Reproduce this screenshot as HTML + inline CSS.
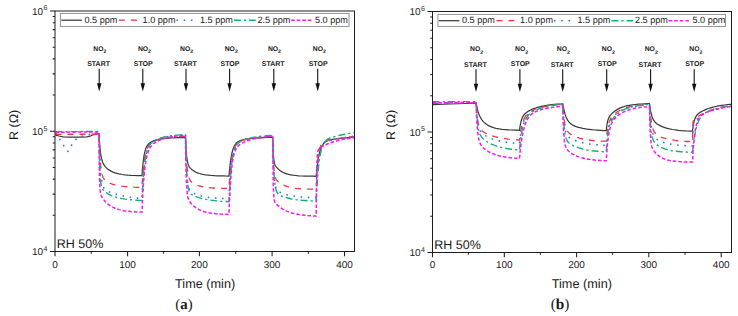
<!DOCTYPE html>
<html><head><meta charset="utf-8"><style>
html,body{margin:0;padding:0;background:#fff;}
body{width:738px;height:316px;overflow:hidden;}
svg{display:block;}
text{font-family:"Liberation Sans", sans-serif;fill:#1a1a1a;text-rendering:geometricPrecision;}
</style></head><body>
<svg width="738" height="316" viewBox="0 0 738 316">
<clipPath id="clipa"><rect x="55.0" y="11.0" width="299.5" height="240.5"/></clipPath>
<g clip-path="url(#clipa)" fill="none" stroke-linejoin="round">
<path d="M55.5 135.2 L59.0 136.0 L63.0 136.8 L70.0 137.1 L80.0 137.1 L87.0 136.8 L90.0 136.2 L93.0 134.8 L96.5 133.6 L99.0 133.9 L99.1 135.8 L99.2 137.6 L99.3 140.1 L99.5 142.3 L99.8 145.6 L100.0 148.3 L100.3 151.1 L100.6 153.5 L101.0 156.0 L101.5 158.4 L102.0 160.3 L102.5 161.8 L103.0 163.0 L104.0 164.9 L105.0 166.3 L106.0 167.4 L107.0 168.4 L108.0 169.2 L109.0 169.9 L111.0 171.1 L113.0 172.1 L115.0 172.8 L117.0 173.4 L119.0 173.9 L122.0 174.5 L125.0 174.9 L128.0 175.2 L131.0 175.4 L134.0 175.5 L137.0 175.6 L140.0 175.7 L142.0 175.7 L142.1 174.2 L142.2 172.8 L142.3 170.7 L142.5 168.9 L142.8 166.0 L143.0 163.5 L143.3 160.8 L143.6 158.5 L144.0 155.9 L144.5 153.3 L145.0 151.1 L145.5 149.4 L146.0 148.0 L147.0 145.9 L148.0 144.5 L149.0 143.5 L150.0 142.7 L151.0 142.0 L152.0 141.5 L154.0 140.7 L156.0 140.1 L158.0 139.6 L160.0 139.2 L162.0 138.9 L165.0 138.5 L168.0 138.2 L171.0 138.0 L174.0 137.9 L177.0 137.7 L180.0 137.6 L183.0 137.6 L185.5 137.5 L185.6 140.1 L185.7 142.4 L185.8 145.5 L186.0 148.2 L186.2 151.9 L186.5 154.9 L186.8 157.7 L187.1 159.8 L187.5 162.0 L188.0 163.9 L188.5 165.3 L189.0 166.3 L189.5 167.1 L190.5 168.4 L191.5 169.3 L192.5 170.1 L193.5 170.8 L194.5 171.4 L195.5 172.0 L197.5 172.8 L199.5 173.5 L201.5 174.1 L203.5 174.5 L205.5 174.9 L208.5 175.2 L211.5 175.5 L214.5 175.7 L217.5 175.8 L220.5 175.9 L223.5 175.9 L226.5 176.0 L229.0 176.0 L229.1 174.8 L229.2 173.6 L229.3 171.9 L229.5 170.3 L229.8 167.8 L230.0 165.5 L230.3 163.0 L230.6 160.7 L231.0 158.1 L231.5 155.3 L232.0 152.9 L232.5 151.0 L233.0 149.3 L234.0 146.7 L235.0 144.9 L236.0 143.5 L237.0 142.5 L238.0 141.8 L239.0 141.2 L241.0 140.4 L243.0 139.8 L245.0 139.4 L247.0 139.1 L249.0 138.8 L252.0 138.5 L255.0 138.2 L258.0 137.9 L261.0 137.8 L264.0 137.6 L267.0 137.5 L270.0 137.4 L272.7 137.3 L272.8 141.1 L272.9 144.3 L273.1 148.4 L273.2 151.6 L273.4 155.6 L273.7 158.5 L274.0 160.8 L274.3 162.4 L274.7 163.9 L275.2 165.2 L275.7 166.1 L276.2 166.8 L276.7 167.4 L277.7 168.5 L278.7 169.4 L279.7 170.3 L280.7 171.0 L281.7 171.6 L282.7 172.2 L284.7 173.1 L286.7 173.8 L288.7 174.4 L290.7 174.8 L292.7 175.2 L295.7 175.5 L298.7 175.8 L301.7 176.0 L304.7 176.1 L307.7 176.1 L310.7 176.2 L313.7 176.2 L316.2 176.3 L316.3 175.1 L316.4 174.0 L316.6 172.5 L316.7 171.0 L316.9 168.6 L317.2 166.4 L317.5 164.1 L317.8 161.9 L318.2 159.3 L318.7 156.5 L319.2 154.1 L319.7 152.1 L320.2 150.3 L321.2 147.5 L322.2 145.5 L323.2 144.0 L324.2 142.8 L325.2 142.0 L326.2 141.3 L328.2 140.4 L330.2 139.8 L332.2 139.4 L334.2 139.1 L336.2 138.8 L339.2 138.5 L342.2 138.1 L345.2 137.8 L348.2 137.5 L351.2 137.2 L354.2 137.0 L354.5 136.9" stroke="#3a3a3a" stroke-width="1.25"/>
<path d="M55.5 134.3 L99.0 134.2 L99.1 137.3 L99.2 140.2 L99.3 144.2 L99.5 147.7 L99.8 152.9 L100.0 157.2 L100.3 161.4 L100.6 164.8 L101.0 168.4 L101.5 171.8 L102.0 174.2 L102.5 175.9 L103.0 177.2 L104.0 179.0 L105.0 180.2 L106.0 181.1 L107.0 181.7 L108.0 182.3 L109.0 182.8 L111.0 183.6 L113.0 184.3 L115.0 184.9 L117.0 185.3 L119.0 185.7 L122.0 186.2 L125.0 186.6 L128.0 186.8 L131.0 187.0 L134.0 187.2 L137.0 187.3 L140.0 187.4 L142.0 187.4 L142.1 185.6 L142.2 183.9 L142.3 181.4 L142.5 179.1 L142.8 175.5 L143.0 172.4 L143.3 169.0 L143.6 166.0 L144.0 162.5 L144.5 159.0 L145.0 156.1 L145.5 153.7 L146.0 151.7 L147.0 148.8 L148.0 146.7 L149.0 145.1 L150.0 144.0 L151.0 143.1 L152.0 142.3 L154.0 141.2 L156.0 140.3 L158.0 139.6 L160.0 139.1 L162.0 138.6 L165.0 138.0 L168.0 137.6 L171.0 137.2 L174.0 136.9 L177.0 136.7 L180.0 136.5 L183.0 136.4 L185.5 136.3 L185.6 139.4 L185.7 142.2 L185.8 146.2 L186.0 149.7 L186.2 154.8 L186.5 159.0 L186.8 163.3 L187.1 166.7 L187.5 170.3 L188.0 173.6 L188.5 176.0 L189.0 177.8 L189.5 179.1 L190.5 180.9 L191.5 182.1 L192.5 182.9 L193.5 183.6 L194.5 184.1 L195.5 184.6 L197.5 185.4 L199.5 186.0 L201.5 186.5 L203.5 186.9 L205.5 187.2 L208.5 187.6 L211.5 187.8 L214.5 188.0 L217.5 188.2 L220.5 188.3 L223.5 188.4 L226.5 188.4 L229.0 188.5 L229.1 186.7 L229.2 185.0 L229.3 182.6 L229.5 180.3 L229.8 176.8 L230.0 173.6 L230.3 170.2 L230.6 167.1 L231.0 163.6 L231.5 159.8 L232.0 156.7 L232.5 154.2 L233.0 152.0 L234.0 148.8 L235.0 146.4 L236.0 144.8 L237.0 143.6 L238.0 142.7 L239.0 141.9 L241.0 140.9 L243.0 140.2 L245.0 139.6 L247.0 139.1 L249.0 138.7 L252.0 138.2 L255.0 137.8 L258.0 137.4 L261.0 137.1 L264.0 136.8 L267.0 136.6 L270.0 136.4 L272.7 136.3 L272.8 141.3 L272.9 145.7 L273.1 151.4 L273.2 156.0 L273.4 162.0 L273.7 166.4 L274.0 170.2 L274.3 172.9 L274.7 175.3 L275.2 177.2 L275.7 178.5 L276.2 179.4 L276.7 180.1 L277.7 181.2 L278.7 182.1 L279.7 182.9 L280.7 183.6 L281.7 184.2 L282.7 184.8 L284.7 185.7 L286.7 186.4 L288.7 187.0 L290.7 187.5 L292.7 187.9 L295.7 188.3 L298.7 188.6 L301.7 188.8 L304.7 189.0 L307.7 189.1 L310.7 189.1 L313.7 189.2 L316.2 189.2 L316.3 186.7 L316.4 184.3 L316.6 180.9 L316.7 177.8 L316.9 173.2 L317.2 169.2 L317.5 165.0 L317.8 161.5 L318.2 157.6 L318.7 153.8 L319.2 150.9 L319.7 148.7 L320.2 147.0 L321.2 144.7 L322.2 143.2 L323.2 142.3 L324.2 141.7 L325.2 141.3 L326.2 140.9 L328.2 140.4 L330.2 140.0 L332.2 139.6 L334.2 139.2 L336.2 138.9 L339.2 138.4 L342.2 137.9 L345.2 137.4 L348.2 137.0 L351.2 136.6 L354.2 136.3 L354.5 136.2" stroke="#f8323f" stroke-width="1.3" stroke-dasharray="6 6"/>
<path d="M55.5 133.0 L57.5 135.0 L60.0 139.7 L64.0 146.2 L67.9 151.4 L71.5 145.3 L75.4 139.7 L81.7 136.4 L89.3 134.4 L95.9 133.4 L99.0 133.2 L99.1 137.0 L99.2 140.5 L99.3 145.3 L99.5 149.7 L99.8 156.0 L100.0 161.3 L100.3 166.5 L100.6 170.8 L101.0 175.3 L101.5 179.4 L102.0 182.4 L102.5 184.6 L103.0 186.1 L104.0 188.2 L105.0 189.4 L106.0 190.2 L107.0 190.8 L108.0 191.3 L109.0 191.8 L111.0 192.5 L113.0 193.2 L115.0 193.8 L117.0 194.4 L119.0 194.9 L122.0 195.6 L125.0 196.3 L128.0 196.8 L131.0 197.3 L134.0 197.8 L137.0 198.1 L140.0 198.5 L142.0 198.7 L142.1 196.4 L142.2 194.3 L142.3 191.2 L142.5 188.3 L142.8 183.9 L143.0 180.0 L143.3 175.8 L143.6 172.1 L144.0 167.8 L144.5 163.4 L145.0 159.8 L145.5 156.9 L146.0 154.4 L147.0 150.7 L148.0 148.1 L149.0 146.2 L150.0 144.8 L151.0 143.7 L152.0 142.8 L154.0 141.4 L156.0 140.3 L158.0 139.5 L160.0 138.7 L162.0 138.1 L165.0 137.4 L168.0 136.9 L171.0 136.4 L174.0 136.1 L177.0 135.8 L180.0 135.6 L183.0 135.4 L185.5 135.3 L185.6 140.0 L185.7 144.3 L185.8 150.1 L186.0 155.1 L186.2 162.1 L186.5 167.7 L186.8 173.0 L187.1 177.0 L187.5 181.0 L188.0 184.5 L188.5 186.7 L189.0 188.3 L189.5 189.4 L190.5 190.9 L191.5 191.8 L192.5 192.5 L193.5 193.1 L194.5 193.6 L195.5 194.1 L197.5 194.9 L199.5 195.5 L201.5 196.1 L203.5 196.5 L205.5 196.9 L208.5 197.4 L211.5 197.7 L214.5 198.0 L217.5 198.2 L220.5 198.4 L223.5 198.5 L226.5 198.6 L229.0 198.7 L229.1 196.5 L229.2 194.5 L229.3 191.6 L229.5 188.8 L229.8 184.5 L230.0 180.7 L230.3 176.5 L230.6 172.8 L231.0 168.5 L231.5 164.0 L232.0 160.2 L232.5 157.1 L233.0 154.5 L234.0 150.6 L235.0 147.8 L236.0 145.8 L237.0 144.3 L238.0 143.2 L239.0 142.3 L241.0 141.1 L243.0 140.2 L245.0 139.5 L247.0 138.9 L249.0 138.4 L252.0 137.8 L255.0 137.3 L258.0 136.8 L261.0 136.5 L264.0 136.2 L267.0 135.9 L270.0 135.7 L272.7 135.5 L272.8 140.7 L272.9 145.3 L273.1 151.5 L273.2 156.9 L273.4 164.2 L273.7 169.8 L274.0 175.0 L274.3 178.9 L274.7 182.6 L275.2 185.7 L275.7 187.6 L276.2 188.9 L276.7 189.8 L277.7 190.9 L278.7 191.6 L279.7 192.2 L280.7 192.6 L281.7 193.0 L282.7 193.4 L284.7 194.1 L286.7 194.7 L288.7 195.1 L290.7 195.6 L292.7 195.9 L295.7 196.4 L298.7 196.7 L301.7 197.0 L304.7 197.2 L307.7 197.4 L310.7 197.5 L313.7 197.6 L316.2 197.7 L316.3 194.8 L316.4 192.0 L316.6 188.0 L316.7 184.4 L316.9 179.1 L317.2 174.4 L317.5 169.6 L317.8 165.5 L318.2 161.0 L318.7 156.6 L319.2 153.2 L319.7 150.6 L320.2 148.6 L321.2 145.9 L322.2 144.3 L323.2 143.2 L324.2 142.5 L325.2 142.0 L326.2 141.6 L328.2 141.0 L330.2 140.5 L332.2 140.0 L334.2 139.6 L336.2 139.2 L339.2 138.6 L342.2 138.0 L345.2 137.5 L348.2 137.0 L351.2 136.6 L354.2 136.1 L354.5 136.1" stroke="#2a78ee" stroke-width="1.6" stroke-dasharray="1.6 5.6"/>
<path d="M55.5 131.7 L99.0 131.5 L99.1 138.1 L99.2 143.9 L99.3 151.4 L99.5 157.6 L99.8 165.7 L100.0 171.7 L100.3 176.9 L100.6 180.6 L101.0 183.8 L101.5 186.4 L102.0 188.0 L102.5 189.0 L103.0 189.8 L104.0 190.9 L105.0 191.7 L106.0 192.5 L107.0 193.1 L108.0 193.8 L109.0 194.3 L111.0 195.3 L113.0 196.2 L115.0 196.9 L117.0 197.5 L119.0 198.0 L122.0 198.6 L125.0 199.1 L128.0 199.5 L131.0 199.8 L134.0 200.1 L137.0 200.2 L140.0 200.4 L142.0 200.5 L142.1 198.1 L142.2 195.9 L142.3 192.7 L142.5 189.7 L142.8 185.1 L143.0 181.0 L143.3 176.7 L143.6 172.8 L144.0 168.4 L144.5 163.8 L145.0 160.1 L145.5 157.0 L146.0 154.5 L147.0 150.7 L148.0 147.9 L149.0 146.0 L150.0 144.5 L151.0 143.3 L152.0 142.4 L154.0 140.9 L156.0 139.8 L158.0 138.9 L160.0 138.2 L162.0 137.6 L165.0 136.8 L168.0 136.2 L171.0 135.8 L174.0 135.4 L177.0 135.1 L180.0 134.9 L183.0 134.7 L185.5 134.6 L185.6 139.4 L185.7 143.9 L185.8 149.8 L186.0 155.1 L186.2 162.4 L186.5 168.4 L186.8 174.0 L187.1 178.3 L187.5 182.7 L188.0 186.5 L188.5 189.0 L189.0 190.7 L189.5 191.9 L190.5 193.5 L191.5 194.4 L192.5 195.0 L193.5 195.6 L194.5 196.0 L195.5 196.5 L197.5 197.2 L199.5 197.8 L201.5 198.4 L203.5 198.9 L205.5 199.3 L208.5 199.8 L211.5 200.3 L214.5 200.6 L217.5 200.9 L220.5 201.2 L223.5 201.4 L226.5 201.5 L229.0 201.7 L229.1 199.4 L229.2 197.3 L229.3 194.2 L229.5 191.3 L229.8 186.8 L230.0 182.8 L230.3 178.4 L230.6 174.5 L231.0 170.0 L231.5 165.2 L232.0 161.3 L232.5 158.0 L233.0 155.3 L234.0 151.1 L235.0 148.2 L236.0 146.1 L237.0 144.6 L238.0 143.4 L239.0 142.5 L241.0 141.2 L243.0 140.2 L245.0 139.5 L247.0 138.9 L249.0 138.4 L252.0 137.7 L255.0 137.2 L258.0 136.7 L261.0 136.3 L264.0 136.0 L267.0 135.7 L270.0 135.5 L272.7 135.3 L272.8 139.9 L272.9 144.2 L273.1 150.0 L273.2 155.1 L273.4 162.2 L273.7 168.1 L274.0 173.7 L274.3 178.0 L274.7 182.4 L275.2 186.2 L275.7 188.8 L276.2 190.6 L276.7 191.9 L277.7 193.5 L278.7 194.5 L279.7 195.1 L280.7 195.6 L281.7 196.1 L282.7 196.5 L284.7 197.1 L286.7 197.7 L288.7 198.2 L290.7 198.7 L292.7 199.1 L295.7 199.6 L298.7 200.0 L301.7 200.3 L304.7 200.5 L307.7 200.7 L310.7 200.9 L313.7 201.0 L316.2 201.1 L316.3 199.1 L316.4 197.1 L316.6 194.2 L316.7 191.5 L316.9 187.2 L317.2 183.3 L317.5 179.0 L317.8 175.2 L318.2 170.6 L318.7 165.7 L319.2 161.5 L319.7 158.0 L320.2 155.1 L321.2 150.4 L322.2 147.0 L323.2 144.6 L324.2 142.8 L325.2 141.4 L326.2 140.4 L328.2 138.9 L330.2 138.0 L332.2 137.3 L334.2 136.7 L336.2 136.2 L339.2 135.5 L342.2 134.8 L345.2 134.2 L348.2 133.6 L351.2 133.0 L354.2 132.5 L354.5 132.4" stroke="#12b074" stroke-width="1.4" stroke-dasharray="7 3 2.2 3"/>
<path d="M55.5 132.4 L70.0 132.1 L99.0 132.0 L99.1 145.3 L99.2 155.8 L99.3 167.4 L99.5 175.5 L99.8 184.0 L100.0 188.8 L100.3 192.0 L100.6 193.8 L101.0 195.2 L101.5 196.3 L102.0 197.2 L102.5 198.0 L103.0 198.7 L104.0 200.0 L105.0 201.2 L106.0 202.2 L107.0 203.2 L108.0 204.1 L109.0 204.9 L111.0 206.3 L113.0 207.4 L115.0 208.3 L117.0 209.0 L119.0 209.6 L122.0 210.4 L125.0 210.9 L128.0 211.3 L131.0 211.6 L134.0 211.8 L137.0 212.0 L140.0 212.1 L142.0 212.1 L142.1 209.6 L142.2 207.2 L142.3 203.8 L142.5 200.5 L142.8 195.6 L143.0 191.0 L143.3 186.2 L143.6 181.8 L144.0 176.8 L144.5 171.4 L145.0 167.0 L145.5 163.4 L146.0 160.3 L147.0 155.6 L148.0 152.1 L149.0 149.6 L150.0 147.8 L151.0 146.3 L152.0 145.1 L154.0 143.3 L156.0 142.0 L158.0 140.9 L160.0 140.0 L162.0 139.2 L165.0 138.3 L168.0 137.5 L171.0 136.9 L174.0 136.4 L177.0 136.0 L180.0 135.7 L183.0 135.4 L185.5 135.2 L185.6 143.7 L185.7 151.0 L185.8 160.2 L186.0 167.6 L186.2 176.9 L186.5 183.4 L186.8 188.7 L187.1 192.3 L187.5 195.5 L188.0 197.8 L188.5 199.3 L189.0 200.4 L189.5 201.3 L190.5 202.7 L191.5 203.9 L192.5 204.9 L193.5 205.8 L194.5 206.7 L195.5 207.5 L197.5 208.8 L199.5 209.9 L201.5 210.7 L203.5 211.5 L205.5 212.0 L208.5 212.7 L211.5 213.2 L214.5 213.6 L217.5 213.9 L220.5 214.1 L223.5 214.2 L226.5 214.3 L229.0 214.4 L229.1 211.6 L229.2 208.9 L229.3 205.0 L229.5 201.4 L229.8 195.9 L230.0 191.0 L230.3 185.7 L230.6 181.1 L231.0 175.7 L231.5 170.2 L232.0 165.7 L232.5 162.0 L233.0 158.9 L234.0 154.4 L235.0 151.3 L236.0 149.0 L237.0 147.4 L238.0 146.2 L239.0 145.2 L241.0 143.7 L243.0 142.6 L245.0 141.7 L247.0 140.9 L249.0 140.2 L252.0 139.3 L255.0 138.6 L258.0 138.0 L261.0 137.4 L264.0 137.0 L267.0 136.6 L270.0 136.3 L272.7 136.0 L272.8 148.9 L272.9 159.2 L273.1 171.0 L273.2 179.5 L273.4 188.8 L273.7 194.2 L274.0 198.0 L274.3 200.1 L274.7 201.6 L275.2 202.7 L275.7 203.4 L276.2 203.9 L276.7 204.4 L277.7 205.4 L278.7 206.2 L279.7 207.0 L280.7 207.8 L281.7 208.4 L282.7 209.1 L284.7 210.2 L286.7 211.1 L288.7 211.9 L290.7 212.6 L292.7 213.2 L295.7 213.9 L298.7 214.5 L301.7 215.0 L304.7 215.3 L307.7 215.6 L310.7 215.8 L313.7 216.0 L316.2 216.1 L316.3 203.8 L316.4 193.8 L316.6 182.1 L316.7 173.6 L316.9 164.0 L317.2 158.2 L317.5 154.2 L317.8 151.9 L318.2 150.3 L318.7 149.3 L319.2 148.7 L319.7 148.3 L320.2 147.9 L321.2 147.2 L322.2 146.6 L323.2 146.1 L324.2 145.5 L325.2 145.0 L326.2 144.5 L328.2 143.7 L330.2 142.9 L332.2 142.2 L334.2 141.5 L336.2 140.9 L339.2 140.2 L342.2 139.6 L345.2 139.0 L348.2 138.6 L351.2 138.2 L354.2 137.9 L354.5 137.8" stroke="#ff14f4" stroke-width="1.5" stroke-dasharray="3.6 2"/>
</g>
<rect x="55.0" y="11.0" width="299.50" height="240.50" fill="none" stroke="#1e1e1e" stroke-width="1.0"/>
<path d="M50.00 251.50H55.0 M52.70 215.30H55.0 M52.70 194.13H55.0 M52.70 179.10H55.0 M52.70 167.45H55.0 M52.70 157.93H55.0 M52.70 149.88H55.0 M52.70 142.90H55.0 M52.70 136.75H55.0 M50.00 131.25H55.0 M50.00 11.00H55.0 M52.70 95.05H55.0 M52.70 73.88H55.0 M52.70 58.85H55.0 M52.70 47.20H55.0 M52.70 37.68H55.0 M52.70 29.63H55.0 M52.70 22.65H55.0 M52.70 16.50H55.0 M55.00 251.5V256.20 M91.20 251.5V253.80 M127.60 251.5V256.20 M163.40 251.5V253.80 M199.40 251.5V256.20 M235.75 251.5V253.80 M272.10 251.5V256.20 M308.40 251.5V253.80 M344.50 251.5V256.20" stroke="#1e1e1e" stroke-width="1.05" fill="none"/>
<text x="43.20" y="255.20" font-size="10" text-anchor="end">10</text>
<text x="43.40" y="250.80" font-size="7">4</text>
<text x="43.20" y="134.95" font-size="10" text-anchor="end">10</text>
<text x="43.40" y="130.55" font-size="7">5</text>
<text x="43.20" y="14.70" font-size="10" text-anchor="end">10</text>
<text x="43.40" y="10.30" font-size="7">6</text>
<text x="55.00" y="267.60" font-size="10" text-anchor="middle">0</text>
<text x="127.60" y="267.60" font-size="10" text-anchor="middle">100</text>
<text x="199.40" y="267.60" font-size="10" text-anchor="middle">200</text>
<text x="272.10" y="267.60" font-size="10" text-anchor="middle">300</text>
<text x="344.50" y="267.60" font-size="10" text-anchor="middle">400</text>
<text x="205.15" y="287.50" font-size="12.7" text-anchor="middle">Time (min)</text>
<text transform="translate(17.70,124.85) rotate(-90)" font-size="12.5" text-anchor="middle">R (&#937;)</text>
<text x="56.80" y="247.80" font-size="12.5">RH 50%</text>
<rect x="60.40" y="13.40" width="288.60" height="13.00" fill="#fff" stroke="#8a8a8a" stroke-width="0.9"/>
<path d="M61.30 20.20H81.90" stroke="#3a3a3a" stroke-width="1.25" fill="none"/>
<text x="84.50" y="22.60" font-size="9.1">0.5 ppm</text>
<path d="M118.90 20.20H137.40" stroke="#f8323f" stroke-width="1.3" stroke-dasharray="6 6" fill="none"/>
<text x="142.60" y="22.60" font-size="9.1">1.0 ppm</text>
<path d="M176.50 20.20H196.90" stroke="#2a78ee" stroke-width="1.6" stroke-dasharray="1.6 5.6" fill="none"/>
<text x="200.00" y="22.60" font-size="9.1">1.5 ppm</text>
<path d="M233.90 20.20H255.70" stroke="#12b074" stroke-width="1.4" stroke-dasharray="7 3 2.2 3" fill="none"/>
<text x="257.50" y="22.60" font-size="9.1">2.5 ppm</text>
<path d="M291.10 20.20H311.90" stroke="#ff14f4" stroke-width="1.5" stroke-dasharray="3.6 2" fill="none"/>
<text x="315.00" y="22.60" font-size="9.1">5.0 ppm</text>
<text x="93.30" y="50.60" font-size="6.8" font-weight="bold">NO<tspan font-size="5.2" dy="2.7">2</tspan></text>
<text x="98.60" y="66.30" font-size="7" font-weight="bold" text-anchor="middle">START</text>
<path d="M99.20 68.80V84.00" stroke="#111" stroke-width="1.1"/>
<path d="M97.00 83.30L101.40 83.30L99.20 91.60Z" fill="#111"/>
<text x="137.90" y="50.60" font-size="6.8" font-weight="bold">NO<tspan font-size="5.2" dy="2.7">2</tspan></text>
<text x="143.20" y="65.90" font-size="7" font-weight="bold" text-anchor="middle">STOP</text>
<path d="M142.80 68.80V84.00" stroke="#111" stroke-width="1.1"/>
<path d="M140.60 83.30L145.00 83.30L142.80 91.60Z" fill="#111"/>
<text x="180.10" y="50.60" font-size="6.8" font-weight="bold">NO<tspan font-size="5.2" dy="2.7">2</tspan></text>
<text x="185.40" y="66.30" font-size="7" font-weight="bold" text-anchor="middle">START</text>
<path d="M186.00 68.80V84.00" stroke="#111" stroke-width="1.1"/>
<path d="M183.80 83.30L188.20 83.30L186.00 91.60Z" fill="#111"/>
<text x="224.70" y="50.60" font-size="6.8" font-weight="bold">NO<tspan font-size="5.2" dy="2.7">2</tspan></text>
<text x="230.00" y="65.90" font-size="7" font-weight="bold" text-anchor="middle">STOP</text>
<path d="M229.60 68.80V84.00" stroke="#111" stroke-width="1.1"/>
<path d="M227.40 83.30L231.80 83.30L229.60 91.60Z" fill="#111"/>
<text x="267.90" y="50.60" font-size="6.8" font-weight="bold">NO<tspan font-size="5.2" dy="2.7">2</tspan></text>
<text x="273.20" y="66.30" font-size="7" font-weight="bold" text-anchor="middle">START</text>
<path d="M273.80 68.80V84.00" stroke="#111" stroke-width="1.1"/>
<path d="M271.60 83.30L276.00 83.30L273.80 91.60Z" fill="#111"/>
<text x="312.80" y="50.60" font-size="6.8" font-weight="bold">NO<tspan font-size="5.2" dy="2.7">2</tspan></text>
<text x="318.10" y="65.90" font-size="7" font-weight="bold" text-anchor="middle">STOP</text>
<path d="M317.70 68.80V84.00" stroke="#111" stroke-width="1.1"/>
<path d="M315.50 83.30L319.90 83.30L317.70 91.60Z" fill="#111"/>
<clipPath id="clipb"><rect x="432.5" y="11.5" width="299.0" height="241.0"/></clipPath>
<g clip-path="url(#clipb)" fill="none" stroke-linejoin="round">
<path d="M432.6 104.7 L450.0 104.0 L465.0 103.5 L476.1 103.2 L476.2 103.7 L476.3 104.3 L476.5 105.0 L476.6 105.8 L476.9 106.9 L477.1 108.0 L477.4 109.2 L477.7 110.3 L478.1 111.7 L478.6 113.2 L479.1 114.5 L479.6 115.7 L480.1 116.8 L481.1 118.6 L482.1 120.1 L483.1 121.3 L484.1 122.4 L485.1 123.3 L486.1 124.1 L488.1 125.4 L490.1 126.4 L492.1 127.2 L494.1 127.8 L496.1 128.3 L499.1 128.9 L502.1 129.3 L505.1 129.6 L508.1 129.9 L511.1 130.0 L514.1 130.1 L517.1 130.2 L519.5 130.3 L519.6 129.5 L519.7 128.8 L519.9 127.7 L520.0 126.7 L520.2 125.3 L520.5 124.0 L520.8 122.6 L521.1 121.4 L521.5 120.0 L522.0 118.5 L522.5 117.4 L523.0 116.4 L523.5 115.6 L524.5 114.2 L525.5 113.2 L526.5 112.4 L527.5 111.7 L528.5 111.1 L529.5 110.5 L531.5 109.5 L533.5 108.7 L535.5 108.0 L537.5 107.4 L539.5 106.8 L542.5 106.1 L545.5 105.6 L548.5 105.1 L551.5 104.7 L554.5 104.4 L557.5 104.2 L560.5 104.0 L562.8 103.8 L562.9 104.4 L563.0 105.0 L563.1 105.9 L563.3 106.7 L563.5 108.0 L563.8 109.2 L564.1 110.5 L564.4 111.8 L564.8 113.2 L565.3 114.9 L565.8 116.3 L566.3 117.5 L566.8 118.6 L567.8 120.4 L568.8 121.8 L569.8 122.9 L570.8 123.8 L571.8 124.5 L572.8 125.1 L574.8 126.1 L576.8 126.8 L578.8 127.4 L580.8 127.9 L582.8 128.4 L585.8 128.9 L588.8 129.3 L591.8 129.7 L594.8 130.0 L597.8 130.2 L600.8 130.4 L603.8 130.6 L606.3 130.7 L606.4 129.6 L606.5 128.5 L606.6 127.1 L606.8 125.9 L607.0 124.2 L607.3 122.8 L607.6 121.4 L607.9 120.3 L608.3 119.1 L608.8 117.9 L609.3 116.9 L609.8 116.1 L610.3 115.4 L611.3 114.3 L612.3 113.2 L613.3 112.3 L614.3 111.5 L615.3 110.7 L616.3 110.1 L618.3 108.9 L620.3 107.9 L622.3 107.1 L624.3 106.5 L626.3 105.9 L629.3 105.3 L632.3 104.8 L635.3 104.5 L638.3 104.2 L641.3 104.0 L644.3 103.8 L647.3 103.7 L649.5 103.7 L649.6 104.5 L649.7 105.3 L649.9 106.4 L650.0 107.4 L650.2 109.0 L650.5 110.4 L650.8 111.9 L651.1 113.2 L651.5 114.8 L652.0 116.4 L652.5 117.7 L653.0 118.9 L653.5 119.8 L654.5 121.3 L655.5 122.5 L656.5 123.4 L657.5 124.2 L658.5 124.8 L659.5 125.4 L661.5 126.4 L663.5 127.2 L665.5 127.8 L667.5 128.4 L669.5 128.9 L672.5 129.5 L675.5 129.9 L678.5 130.3 L681.5 130.6 L684.5 130.8 L687.5 131.0 L690.5 131.2 L692.5 131.2 L692.6 130.4 L692.7 129.5 L692.9 128.3 L693.0 127.2 L693.2 125.6 L693.5 124.2 L693.8 122.7 L694.1 121.4 L694.5 120.0 L695.0 118.6 L695.5 117.4 L696.0 116.5 L696.5 115.7 L697.5 114.5 L698.5 113.5 L699.5 112.8 L700.5 112.1 L701.5 111.5 L702.5 111.0 L704.5 110.1 L706.5 109.2 L708.5 108.5 L710.5 107.8 L712.5 107.3 L715.5 106.5 L718.5 105.9 L721.5 105.4 L724.5 105.0 L727.5 104.6 L730.5 104.3 L731.5 104.2" stroke="#3a3a3a" stroke-width="1.25"/>
<path d="M432.6 103.4 L476.1 102.9 L476.2 104.5 L476.3 106.1 L476.5 108.2 L476.6 110.1 L476.9 113.0 L477.1 115.4 L477.4 117.9 L477.7 119.9 L478.1 122.2 L478.6 124.4 L479.1 126.0 L479.6 127.3 L480.1 128.3 L481.1 129.8 L482.1 130.8 L483.1 131.6 L484.1 132.3 L485.1 132.9 L486.1 133.4 L488.1 134.3 L490.1 135.1 L492.1 135.8 L494.1 136.4 L496.1 137.0 L499.1 137.7 L502.1 138.2 L505.1 138.7 L508.1 139.1 L511.1 139.4 L514.1 139.7 L517.1 139.9 L519.5 140.1 L519.6 139.2 L519.7 138.4 L519.9 137.2 L520.0 136.1 L520.2 134.3 L520.5 132.6 L520.8 130.8 L521.1 129.2 L521.5 127.2 L522.0 125.1 L522.5 123.2 L523.0 121.6 L523.5 120.2 L524.5 118.0 L525.5 116.3 L526.5 114.9 L527.5 113.8 L528.5 112.9 L529.5 112.1 L531.5 110.9 L533.5 110.0 L535.5 109.2 L537.5 108.5 L539.5 107.9 L542.5 107.1 L545.5 106.5 L548.5 105.9 L551.5 105.4 L554.5 105.0 L557.5 104.7 L560.5 104.4 L562.8 104.2 L562.9 105.8 L563.0 107.3 L563.1 109.3 L563.3 111.2 L563.5 114.0 L563.8 116.4 L564.1 118.9 L564.4 121.1 L564.8 123.4 L565.3 125.7 L565.8 127.4 L566.3 128.8 L566.8 130.0 L567.8 131.6 L568.8 132.8 L569.8 133.7 L570.8 134.4 L571.8 135.1 L572.8 135.6 L574.8 136.5 L576.8 137.3 L578.8 137.9 L580.8 138.5 L582.8 139.0 L585.8 139.5 L588.8 140.0 L591.8 140.3 L594.8 140.6 L597.8 140.8 L600.8 141.0 L603.8 141.1 L606.3 141.2 L606.4 139.9 L606.5 138.6 L606.6 136.9 L606.8 135.3 L607.0 133.0 L607.3 131.0 L607.6 128.9 L607.9 127.1 L608.3 125.2 L608.8 123.2 L609.3 121.6 L609.8 120.4 L610.3 119.3 L611.3 117.6 L612.3 116.2 L613.3 115.1 L614.3 114.2 L615.3 113.3 L616.3 112.5 L618.3 111.2 L620.3 110.1 L622.3 109.1 L624.3 108.3 L626.3 107.7 L629.3 106.8 L632.3 106.2 L635.3 105.7 L638.3 105.3 L641.3 105.0 L644.3 104.8 L647.3 104.6 L649.5 104.5 L649.6 105.8 L649.7 107.1 L649.9 108.9 L650.0 110.6 L650.2 113.2 L650.5 115.5 L650.8 118.0 L651.1 120.1 L651.5 122.6 L652.0 125.1 L652.5 127.1 L653.0 128.8 L653.5 130.1 L654.5 132.1 L655.5 133.5 L656.5 134.6 L657.5 135.4 L658.5 136.0 L659.5 136.5 L661.5 137.3 L663.5 137.9 L665.5 138.5 L667.5 139.0 L669.5 139.4 L672.5 139.9 L675.5 140.4 L678.5 140.8 L681.5 141.1 L684.5 141.3 L687.5 141.5 L690.5 141.7 L692.5 141.8 L692.6 134.8 L692.7 130.1 L692.9 125.7 L693.0 123.3 L693.2 121.3 L693.5 120.5 L693.8 119.9 L694.1 119.6 L694.5 119.2 L695.0 118.8 L695.5 118.4 L696.0 118.0 L696.5 117.6 L697.5 116.9 L698.5 116.2 L699.5 115.5 L700.5 114.9 L701.5 114.3 L702.5 113.7 L704.5 112.6 L706.5 111.7 L708.5 110.9 L710.5 110.1 L712.5 109.5 L715.5 108.6 L718.5 107.9 L721.5 107.2 L724.5 106.7 L727.5 106.3 L730.5 105.9 L731.5 105.8" stroke="#f8323f" stroke-width="1.3" stroke-dasharray="6 6"/>
<path d="M432.6 102.8 L476.1 102.5 L476.2 104.4 L476.3 106.2 L476.5 108.7 L476.6 110.9 L476.9 114.1 L477.1 116.9 L477.4 119.6 L477.7 121.9 L478.1 124.3 L478.6 126.5 L479.1 128.2 L479.6 129.6 L480.1 130.6 L481.1 132.1 L482.1 133.2 L483.1 134.1 L484.1 134.8 L485.1 135.5 L486.1 136.1 L488.1 137.2 L490.1 138.1 L492.1 138.9 L494.1 139.6 L496.1 140.2 L499.1 140.9 L502.1 141.6 L505.1 142.1 L508.1 142.5 L511.1 142.8 L514.1 143.1 L517.1 143.3 L519.5 143.4 L519.6 142.5 L519.7 141.6 L519.9 140.3 L520.0 139.1 L520.2 137.1 L520.5 135.3 L520.8 133.4 L521.1 131.6 L521.5 129.4 L522.0 127.1 L522.5 125.1 L523.0 123.4 L523.5 121.9 L524.5 119.4 L525.5 117.5 L526.5 116.0 L527.5 114.8 L528.5 113.9 L529.5 113.0 L531.5 111.7 L533.5 110.7 L535.5 109.8 L537.5 109.1 L539.5 108.4 L542.5 107.6 L545.5 106.9 L548.5 106.3 L551.5 105.7 L554.5 105.3 L557.5 104.9 L560.5 104.6 L562.8 104.4 L562.9 106.4 L563.0 108.3 L563.1 111.0 L563.3 113.3 L563.5 116.8 L563.8 119.7 L564.1 122.7 L564.4 125.1 L564.8 127.7 L565.3 130.2 L565.8 132.0 L566.3 133.4 L566.8 134.5 L567.8 136.0 L568.8 137.1 L569.8 137.8 L570.8 138.5 L571.8 139.0 L572.8 139.5 L574.8 140.3 L576.8 141.0 L578.8 141.7 L580.8 142.2 L582.8 142.7 L585.8 143.4 L588.8 143.9 L591.8 144.3 L594.8 144.6 L597.8 144.9 L600.8 145.2 L603.8 145.4 L606.3 145.5 L606.4 144.1 L606.5 142.7 L606.6 140.8 L606.8 139.0 L607.0 136.5 L607.3 134.2 L607.6 131.9 L607.9 130.0 L608.3 127.8 L608.8 125.6 L609.3 123.9 L609.8 122.4 L610.3 121.3 L611.3 119.4 L612.3 117.9 L613.3 116.7 L614.3 115.6 L615.3 114.7 L616.3 113.8 L618.3 112.3 L620.3 111.1 L622.3 110.0 L624.3 109.1 L626.3 108.4 L629.3 107.5 L632.3 106.8 L635.3 106.2 L638.3 105.8 L641.3 105.5 L644.3 105.2 L647.3 105.0 L649.5 104.9 L649.6 106.8 L649.7 108.7 L649.9 111.2 L650.0 113.5 L650.2 116.9 L650.5 119.8 L650.8 122.8 L651.1 125.3 L651.5 127.9 L652.0 130.5 L652.5 132.5 L653.0 134.0 L653.5 135.2 L654.5 137.0 L655.5 138.1 L656.5 139.0 L657.5 139.7 L658.5 140.3 L659.5 140.8 L661.5 141.7 L663.5 142.4 L665.5 143.0 L667.5 143.5 L669.5 144.0 L672.5 144.5 L675.5 144.9 L678.5 145.2 L681.5 145.4 L684.5 145.6 L687.5 145.8 L690.5 145.9 L692.5 145.9 L692.6 141.1 L692.7 137.2 L692.9 132.9 L693.0 129.9 L693.2 126.6 L693.5 124.7 L693.8 123.3 L694.1 122.5 L694.5 121.8 L695.0 121.1 L695.5 120.5 L696.0 120.0 L696.5 119.5 L697.5 118.5 L698.5 117.7 L699.5 116.8 L700.5 116.0 L701.5 115.3 L702.5 114.6 L704.5 113.4 L706.5 112.3 L708.5 111.3 L710.5 110.5 L712.5 109.8 L715.5 108.8 L718.5 108.1 L721.5 107.5 L724.5 106.9 L727.5 106.5 L730.5 106.2 L731.5 106.1" stroke="#2a78ee" stroke-width="1.6" stroke-dasharray="1.6 5.6"/>
<path d="M432.6 101.7 L476.1 101.6 L476.2 103.7 L476.3 105.7 L476.5 108.5 L476.6 111.0 L476.9 114.7 L477.1 117.9 L477.4 121.1 L477.7 123.8 L478.1 126.6 L478.6 129.4 L479.1 131.5 L479.6 133.2 L480.1 134.5 L481.1 136.4 L482.1 137.7 L483.1 138.8 L484.1 139.7 L485.1 140.5 L486.1 141.2 L488.1 142.4 L490.1 143.5 L492.1 144.4 L494.1 145.2 L496.1 145.9 L499.1 146.9 L502.1 147.6 L505.1 148.2 L508.1 148.7 L511.1 149.2 L514.1 149.5 L517.1 149.8 L519.5 150.0 L519.6 148.9 L519.7 147.8 L519.9 146.3 L520.0 144.8 L520.2 142.5 L520.5 140.4 L520.8 138.1 L521.1 136.0 L521.5 133.4 L522.0 130.7 L522.5 128.3 L523.0 126.3 L523.5 124.5 L524.5 121.6 L525.5 119.4 L526.5 117.6 L527.5 116.2 L528.5 115.1 L529.5 114.1 L531.5 112.5 L533.5 111.3 L535.5 110.3 L537.5 109.4 L539.5 108.6 L542.5 107.6 L545.5 106.8 L548.5 106.1 L551.5 105.5 L554.5 105.0 L557.5 104.5 L560.5 104.2 L562.8 103.9 L562.9 106.5 L563.0 108.9 L563.1 112.2 L563.3 115.1 L563.5 119.4 L563.8 123.0 L564.1 126.5 L564.4 129.4 L564.8 132.4 L565.3 135.2 L565.8 137.3 L566.3 138.8 L566.8 140.0 L567.8 141.7 L568.8 142.8 L569.8 143.6 L570.8 144.3 L571.8 144.9 L572.8 145.5 L574.8 146.4 L576.8 147.2 L578.8 147.9 L580.8 148.5 L582.8 149.1 L585.8 149.7 L588.8 150.3 L591.8 150.7 L594.8 151.0 L597.8 151.3 L600.8 151.6 L603.8 151.7 L606.3 151.9 L606.4 150.2 L606.5 148.6 L606.6 146.3 L606.8 144.3 L607.0 141.3 L607.3 138.7 L607.6 136.0 L607.9 133.7 L608.3 131.2 L608.8 128.6 L609.3 126.6 L609.8 124.9 L610.3 123.5 L611.3 121.3 L612.3 119.6 L613.3 118.2 L614.3 116.9 L615.3 115.8 L616.3 114.8 L618.3 113.1 L620.3 111.6 L622.3 110.4 L624.3 109.3 L626.3 108.5 L629.3 107.4 L632.3 106.6 L635.3 105.9 L638.3 105.5 L641.3 105.1 L644.3 104.8 L647.3 104.5 L649.5 104.4 L649.6 107.2 L649.7 109.9 L649.9 113.4 L650.0 116.5 L650.2 121.0 L650.5 124.6 L650.8 128.1 L651.1 130.9 L651.5 133.8 L652.0 136.4 L652.5 138.2 L653.0 139.6 L653.5 140.7 L654.5 142.3 L655.5 143.4 L656.5 144.3 L657.5 145.1 L658.5 145.8 L659.5 146.4 L661.5 147.5 L663.5 148.4 L665.5 149.1 L667.5 149.7 L669.5 150.2 L672.5 150.8 L675.5 151.2 L678.5 151.5 L681.5 151.8 L684.5 152.0 L687.5 152.1 L690.5 152.2 L692.5 152.3 L692.6 151.3 L692.7 150.3 L692.9 148.9 L693.0 147.6 L693.2 145.4 L693.5 143.4 L693.8 141.2 L694.1 139.1 L694.5 136.6 L695.0 133.7 L695.5 131.2 L696.0 129.0 L696.5 127.1 L697.5 123.8 L698.5 121.2 L699.5 119.2 L700.5 117.6 L701.5 116.3 L702.5 115.2 L704.5 113.5 L706.5 112.4 L708.5 111.4 L710.5 110.7 L712.5 110.0 L715.5 109.2 L718.5 108.4 L721.5 107.7 L724.5 107.0 L727.5 106.4 L730.5 105.8 L731.5 105.6" stroke="#12b074" stroke-width="1.4" stroke-dasharray="7 3 2.2 3"/>
<path d="M432.6 102.7 L476.1 102.5 L476.2 105.5 L476.3 108.4 L476.5 112.2 L476.6 115.6 L476.9 120.5 L477.1 124.6 L477.4 128.6 L477.7 131.8 L478.1 135.1 L478.6 138.2 L479.1 140.4 L479.6 142.1 L480.1 143.4 L481.1 145.2 L482.1 146.6 L483.1 147.7 L484.1 148.6 L485.1 149.4 L486.1 150.1 L488.1 151.4 L490.1 152.5 L492.1 153.4 L494.1 154.3 L496.1 155.0 L499.1 155.8 L502.1 156.5 L505.1 157.0 L508.1 157.5 L511.1 157.8 L514.1 158.1 L517.1 158.3 L519.5 158.4 L519.6 157.3 L519.7 156.3 L519.9 154.7 L520.0 153.2 L520.2 150.9 L520.5 148.6 L520.8 146.2 L521.1 143.8 L521.5 141.0 L522.0 137.8 L522.5 135.0 L523.0 132.5 L523.5 130.2 L524.5 126.5 L525.5 123.5 L526.5 121.1 L527.5 119.1 L528.5 117.5 L529.5 116.2 L531.5 114.2 L533.5 112.8 L535.5 111.7 L537.5 110.9 L539.5 110.2 L542.5 109.3 L545.5 108.6 L548.5 108.0 L551.5 107.5 L554.5 107.1 L557.5 106.7 L560.5 106.4 L562.8 106.1 L562.9 110.4 L563.0 114.1 L563.1 119.1 L563.3 123.3 L563.5 129.0 L563.8 133.5 L564.1 137.4 L564.4 140.4 L564.8 143.2 L565.3 145.6 L565.8 147.1 L566.3 148.3 L566.8 149.1 L567.8 150.3 L568.8 151.3 L569.8 152.1 L570.8 152.8 L571.8 153.5 L572.8 154.1 L574.8 155.2 L576.8 156.1 L578.8 156.9 L580.8 157.6 L582.8 158.1 L585.8 158.8 L588.8 159.3 L591.8 159.8 L594.8 160.1 L597.8 160.3 L600.8 160.5 L603.8 160.7 L606.3 160.8 L606.4 159.0 L606.5 157.4 L606.6 155.0 L606.8 152.8 L607.0 149.4 L607.3 146.4 L607.6 143.2 L607.9 140.4 L608.3 137.2 L608.8 133.9 L609.3 131.2 L609.8 129.0 L610.3 127.1 L611.3 124.2 L612.3 122.1 L613.3 120.4 L614.3 119.1 L615.3 117.9 L616.3 116.9 L618.3 115.2 L620.3 113.9 L622.3 112.7 L624.3 111.7 L626.3 110.8 L629.3 109.8 L632.3 108.9 L635.3 108.2 L638.3 107.7 L641.3 107.3 L644.3 106.9 L647.3 106.7 L649.5 106.5 L649.6 111.6 L649.7 116.0 L649.9 121.6 L650.0 126.1 L650.2 132.0 L650.5 136.3 L650.8 140.0 L651.1 142.6 L651.5 145.0 L652.0 146.9 L652.5 148.3 L653.0 149.4 L653.5 150.2 L654.5 151.7 L655.5 152.9 L656.5 154.0 L657.5 154.9 L658.5 155.7 L659.5 156.5 L661.5 157.7 L663.5 158.7 L665.5 159.4 L667.5 160.0 L669.5 160.5 L672.5 161.0 L675.5 161.3 L678.5 161.6 L681.5 161.8 L684.5 161.9 L687.5 162.0 L690.5 162.0 L692.5 162.1 L692.6 160.2 L692.7 158.4 L692.9 155.8 L693.0 153.4 L693.2 149.7 L693.5 146.4 L693.8 142.9 L694.1 139.7 L694.5 136.1 L695.0 132.3 L695.5 129.2 L696.0 126.6 L696.5 124.5 L697.5 121.3 L698.5 119.0 L699.5 117.4 L700.5 116.2 L701.5 115.2 L702.5 114.5 L704.5 113.3 L706.5 112.4 L708.5 111.6 L710.5 110.9 L712.5 110.3 L715.5 109.5 L718.5 108.8 L721.5 108.1 L724.5 107.6 L727.5 107.1 L730.5 106.7 L731.5 106.6" stroke="#ff14f4" stroke-width="1.5" stroke-dasharray="3.6 2"/>
</g>
<rect x="432.5" y="11.5" width="299.00" height="241.00" fill="none" stroke="#1e1e1e" stroke-width="1.0"/>
<path d="M427.50 252.50H432.5 M430.20 216.23H432.5 M430.20 195.01H432.5 M430.20 179.95H432.5 M430.20 168.27H432.5 M430.20 158.73H432.5 M430.20 150.67H432.5 M430.20 143.68H432.5 M430.20 137.51H432.5 M427.50 132.00H432.5 M427.50 11.50H432.5 M430.20 95.73H432.5 M430.20 74.51H432.5 M430.20 59.45H432.5 M430.20 47.77H432.5 M430.20 38.23H432.5 M430.20 30.17H432.5 M430.20 23.18H432.5 M430.20 17.01H432.5 M432.50 252.5V257.20 M468.40 252.5V254.80 M504.30 252.5V257.20 M540.40 252.5V254.80 M576.60 252.5V257.20 M612.60 252.5V254.80 M648.80 252.5V257.20 M685.00 252.5V254.80 M721.20 252.5V257.20" stroke="#1e1e1e" stroke-width="1.05" fill="none"/>
<text x="420.70" y="256.20" font-size="10" text-anchor="end">10</text>
<text x="420.90" y="251.80" font-size="7">4</text>
<text x="420.70" y="135.70" font-size="10" text-anchor="end">10</text>
<text x="420.90" y="131.30" font-size="7">5</text>
<text x="420.70" y="15.20" font-size="10" text-anchor="end">10</text>
<text x="420.90" y="10.80" font-size="7">6</text>
<text x="432.50" y="268.10" font-size="10" text-anchor="middle">0</text>
<text x="504.30" y="268.10" font-size="10" text-anchor="middle">100</text>
<text x="576.60" y="268.10" font-size="10" text-anchor="middle">200</text>
<text x="648.80" y="268.10" font-size="10" text-anchor="middle">300</text>
<text x="721.20" y="268.10" font-size="10" text-anchor="middle">400</text>
<text x="581.85" y="287.80" font-size="12.7" text-anchor="middle">Time (min)</text>
<text transform="translate(395.20,124.85) rotate(-90)" font-size="12.5" text-anchor="middle">R (&#937;)</text>
<text x="434.30" y="248.80" font-size="12.5">RH 50%</text>
<rect x="437.90" y="14.40" width="287.70" height="12.00" fill="#fff" stroke="#8a8a8a" stroke-width="0.9"/>
<path d="M438.80 20.70H459.40" stroke="#3a3a3a" stroke-width="1.25" fill="none"/>
<text x="462.00" y="23.10" font-size="9.1">0.5 ppm</text>
<path d="M496.40 20.70H514.90" stroke="#f8323f" stroke-width="1.3" stroke-dasharray="6 6" fill="none"/>
<text x="520.10" y="23.10" font-size="9.1">1.0 ppm</text>
<path d="M554.00 20.70H574.40" stroke="#2a78ee" stroke-width="1.6" stroke-dasharray="1.6 5.6" fill="none"/>
<text x="577.50" y="23.10" font-size="9.1">1.5 ppm</text>
<path d="M611.40 20.70H633.20" stroke="#12b074" stroke-width="1.4" stroke-dasharray="7 3 2.2 3" fill="none"/>
<text x="635.00" y="23.10" font-size="9.1">2.5 ppm</text>
<path d="M668.60 20.70H689.40" stroke="#ff14f4" stroke-width="1.5" stroke-dasharray="3.6 2" fill="none"/>
<text x="692.50" y="23.10" font-size="9.1">5.0 ppm</text>
<text x="470.10" y="51.10" font-size="6.8" font-weight="bold">NO<tspan font-size="5.2" dy="2.7">2</tspan></text>
<text x="475.40" y="66.80" font-size="7" font-weight="bold" text-anchor="middle">START</text>
<path d="M476.00 69.30V84.50" stroke="#111" stroke-width="1.1"/>
<path d="M473.80 83.80L478.20 83.80L476.00 92.10Z" fill="#111"/>
<text x="515.00" y="51.10" font-size="6.8" font-weight="bold">NO<tspan font-size="5.2" dy="2.7">2</tspan></text>
<text x="520.30" y="66.40" font-size="7" font-weight="bold" text-anchor="middle">STOP</text>
<path d="M519.90 69.30V84.50" stroke="#111" stroke-width="1.1"/>
<path d="M517.70 83.80L522.10 83.80L519.90 92.10Z" fill="#111"/>
<text x="556.80" y="51.10" font-size="6.8" font-weight="bold">NO<tspan font-size="5.2" dy="2.7">2</tspan></text>
<text x="562.10" y="66.80" font-size="7" font-weight="bold" text-anchor="middle">START</text>
<path d="M562.70 69.30V84.50" stroke="#111" stroke-width="1.1"/>
<path d="M560.50 83.80L564.90 83.80L562.70 92.10Z" fill="#111"/>
<text x="601.80" y="51.10" font-size="6.8" font-weight="bold">NO<tspan font-size="5.2" dy="2.7">2</tspan></text>
<text x="607.10" y="66.40" font-size="7" font-weight="bold" text-anchor="middle">STOP</text>
<path d="M606.70 69.30V84.50" stroke="#111" stroke-width="1.1"/>
<path d="M604.50 83.80L608.90 83.80L606.70 92.10Z" fill="#111"/>
<text x="644.70" y="51.10" font-size="6.8" font-weight="bold">NO<tspan font-size="5.2" dy="2.7">2</tspan></text>
<text x="650.00" y="66.80" font-size="7" font-weight="bold" text-anchor="middle">START</text>
<path d="M650.60 69.30V84.50" stroke="#111" stroke-width="1.1"/>
<path d="M648.40 83.80L652.80 83.80L650.60 92.10Z" fill="#111"/>
<text x="689.30" y="51.10" font-size="6.8" font-weight="bold">NO<tspan font-size="5.2" dy="2.7">2</tspan></text>
<text x="694.60" y="66.40" font-size="7" font-weight="bold" text-anchor="middle">STOP</text>
<path d="M694.20 69.30V84.50" stroke="#111" stroke-width="1.1"/>
<path d="M692.00 83.80L696.40 83.80L694.20 92.10Z" fill="#111"/>
<text x="175.3" y="308.5" style="font-family:Liberation Serif,serif" font-size="14.8">(<tspan font-weight="bold">a</tspan>)</text>
<text x="550.7" y="308.6" style="font-family:Liberation Serif,serif" font-size="15.3">(<tspan font-weight="bold">b</tspan>)</text>
</svg>
</body></html>
